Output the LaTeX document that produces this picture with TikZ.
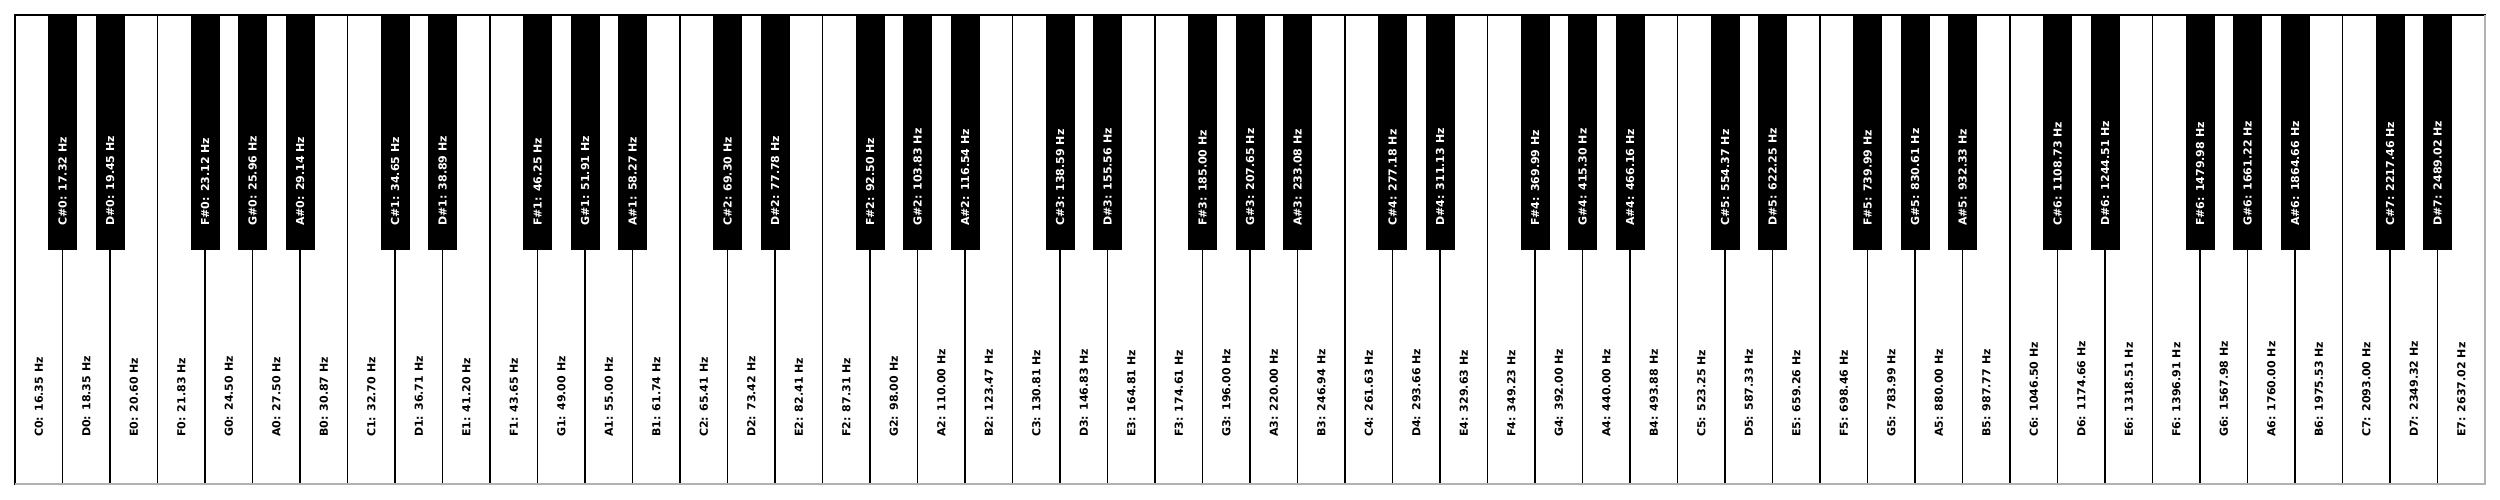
\documentclass[tikz,border=0pt]{standalone}
\usepackage{fontspec}
\setmainfont{DejaVu Sans}
\usepackage{tikz}
\usetikzlibrary{positioning}

\begin{document}
\begin{tikzpicture}[x=1pt, y=1pt,
  whitekey/.style={draw, line width=1.4pt, rectangle, inner sep=0pt, outer sep=0pt,
    minimum width=47.5pt, minimum height=469pt, anchor=south west},
  blackkey/.style={fill=black, rectangle, inner sep=0pt, outer sep=0pt,
    minimum width=29pt, minimum height=235pt, anchor=north},
  wlabel/.style={rotate=90, anchor=west, inner sep=0pt, font=\fontsize{11}{13}\selectfont\bfseries},
  blabel/.style={wlabel, text=white}]
\useasboundingbox (0,0) rectangle (2500,500);
% white keys
\foreach \nm/\o/\f [count=\i from 0] in {
  C/0/16.35, D/0/18.35, E/0/20.60, F/0/21.83, G/0/24.50, A/0/27.50, B/0/30.87,
  C/1/32.70, D/1/36.71, E/1/41.20, F/1/43.65, G/1/49.00, A/1/55.00, B/1/61.74,
  C/2/65.41, D/2/73.42, E/2/82.41, F/2/87.31, G/2/98.00, A/2/110.00, B/2/123.47,
  C/3/130.81, D/3/146.83, E/3/164.81, F/3/174.61, G/3/196.00, A/3/220.00, B/3/246.94,
  C/4/261.63, D/4/293.66, E/4/329.63, F/4/349.23, G/4/392.00, A/4/440.00, B/4/493.88,
  C/5/523.25, D/5/587.33, E/5/659.26, F/5/698.46, G/5/783.99, A/5/880.00, B/5/987.77,
  C/6/1046.50, D/6/1174.66, E/6/1318.51, F/6/1396.91, G/6/1567.98, A/6/1760.00, B/6/1975.53,
  C/7/2093.00, D/7/2349.32, E/7/2637.02} {
  \node[whitekey] (\nm\o) at (15+47.5*\i, 16) {};
  \node[wlabel] (\nm\o-lab) at ([yshift=47pt]\nm\o.south) {\nm\o: \f\ Hz};
}
% gray lower and right edge
\draw[gray!60, line width=1.4pt] (C0.south west) -- (E7.south east) -- (E7.north east);
% black keys
\foreach \b/\nm/\o/\f in {
  1/C/0/17.32, 2/D/0/19.45, 4/F/0/23.12, 5/G/0/25.96, 6/A/0/29.14,
  8/C/1/34.65, 9/D/1/38.89, 11/F/1/46.25, 12/G/1/51.91, 13/A/1/58.27,
  15/C/2/69.30, 16/D/2/77.78, 18/F/2/92.50, 19/G/2/103.83, 20/A/2/116.54,
  22/C/3/138.59, 23/D/3/155.56, 25/F/3/185.00, 26/G/3/207.65, 27/A/3/233.08,
  29/C/4/277.18, 30/D/4/311.13, 32/F/4/369.99, 33/G/4/415.30, 34/A/4/466.16,
  36/C/5/554.37, 37/D/5/622.25, 39/F/5/739.99, 40/G/5/830.61, 41/A/5/932.33,
  43/C/6/1108.73, 44/D/6/1244.51, 46/F/6/1479.98, 47/G/6/1661.22, 48/A/6/1864.66,
  50/C/7/2217.46, 51/D/7/2489.02} {
  \node[blackkey] (\nm s\o) at (15+47.5*\b, 485) {};
  \node[blabel] (\nm s\o-lab) at ([yshift=24pt]\nm s\o.south) {\nm\#\o: \f\ Hz};
}
\end{tikzpicture}
\end{document}
